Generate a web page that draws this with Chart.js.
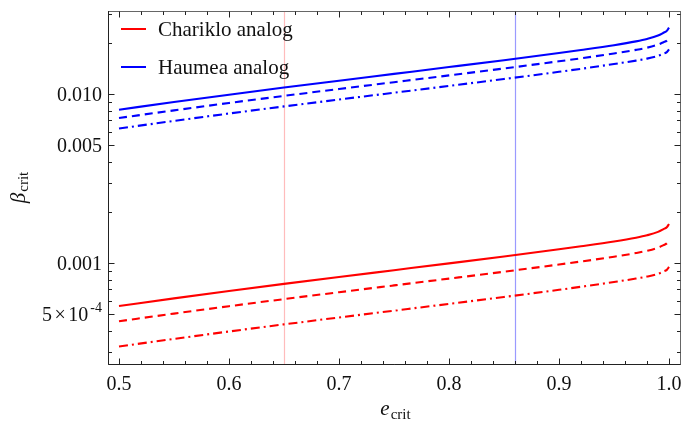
<!DOCTYPE html>
<html><head><meta charset="utf-8">
<script src="https://cdn.jsdelivr.net/npm/chart.js@4.4.1/dist/chart.umd.min.js"></script>
<style>html,body{margin:0;padding:0;background:#fff;}</style>
</head><body>
<canvas id="c" width="698" height="426"></canvas>
<script>
// ---- data ----
const eCrit = [0.5, 0.55, 0.6, 0.65, 0.7, 0.75, 0.8, 0.85, 0.9, 0.92, 0.95, 0.97, 0.98, 0.99, 0.995, 0.998, 1.0];
const haumeaSolid   = [0.008107, 0.008992, 0.009946, 0.010955, 0.012035, 0.013203, 0.014485, 0.015913, 0.017554, 0.018286, 0.019522, 0.020558, 0.021241, 0.022248, 0.023114, 0.023719, 0.024781];
const haumeaDashed  = [0.007240, 0.008030, 0.008882, 0.009783, 0.010747, 0.011790, 0.012935, 0.014210, 0.015676, 0.016329, 0.017433, 0.018311, 0.018868, 0.019678, 0.020338, 0.020778, 0.021626];
const haumeaDashDot = [0.006272, 0.006957, 0.007695, 0.008476, 0.009311, 0.010215, 0.011207, 0.012312, 0.013582, 0.014148, 0.015104, 0.015819, 0.016256, 0.016889, 0.017403, 0.017766, 0.018457];
const charikloSolid   = [0.0005588, 0.0006198, 0.0006856, 0.0007551, 0.0008296, 0.0009101, 0.0009985, 0.0010969, 0.0012100, 0.0012605, 0.0013456, 0.0014171, 0.0014642, 0.0015336, 0.0015933, 0.0016349, 0.0017082];
const charikloDashed  = [0.0004541, 0.0005037, 0.0005572, 0.0006137, 0.0006742, 0.0007396, 0.0008115, 0.0008915, 0.0009834, 0.0010244, 0.0010936, 0.0011494, 0.0011851, 0.0012372, 0.0012810, 0.0013112, 0.0013659];
const charikloDashDot = [0.0003218, 0.0003569, 0.0003948, 0.0004349, 0.0004778, 0.0005241, 0.0005750, 0.0006317, 0.0006968, 0.0007259, 0.0007749, 0.0008117, 0.0008341, 0.0008665, 0.0008942, 0.0009139, 0.0009508];
const refLines = [0.65, 0.86];
const xTickValues = [0.5, 0.6, 0.7, 0.8, 0.9, 1.0];
const xTickLabels = ["0.5", "0.6", "0.7", "0.8", "0.9", "1.0"];
const yTickValues = [0.0005, 0.001, 0.005, 0.01];
const yTickLabels = ["5×10^-4", "0.001", "0.005", "0.010"];
const yMinorValues = [0.0003, 0.0004, 0.0006, 0.0007, 0.0008, 0.0009, 0.002, 0.003, 0.004, 0.006, 0.007, 0.008, 0.009, 0.02, 0.03];
const seriesLabels = ["Chariklo analog", "Haumea analog"];

// ---- styles ----
const RED = '#ff0000', BLUE = '#0000ff';
const refColors = ['#ffbcbc', '#9a9aff'];
const SERIF = '"Liberation Serif", "Times New Roman", serif';

function pts(arr) { return eCrit.map((x, i) => ({ x: x, y: arr[i] })); }
function ds(label, arr, color, dash, legend) {
  return { label: label, data: pts(arr), borderColor: color, backgroundColor: color,
    borderWidth: 2.1, borderDash: dash, pointRadius: 0, fill: false,
    cubicInterpolationMode: 'monotone', inLegend: legend };
}

const datasets = [
  ds(seriesLabels[0], charikloSolid, RED, [], true),
  ds(seriesLabels[0] + ' (dashed)', charikloDashed, RED, [8, 5], false),
  ds(seriesLabels[0] + ' (dot-dashed)', charikloDashDot, RED, [9, 4, 2, 4], false),
  ds(seriesLabels[1], haumeaSolid, BLUE, [], true),
  ds(seriesLabels[1] + ' (dashed)', haumeaDashed, BLUE, [8, 5], false),
  ds(seriesLabels[1] + ' (dot-dashed)', haumeaDashDot, BLUE, [9, 4, 2, 4], false)
];

const refLinePlugin = {
  id: 'refLines',
  beforeDatasetsDraw(chart) {
    const { ctx, chartArea: a, scales: { x } } = chart;
    ctx.save();
    refLines.forEach((v, i) => {
      const px = Math.round(x.getPixelForValue(v)) + 0.5;
      ctx.strokeStyle = refColors[i];
      ctx.lineWidth = 1.2;
      ctx.beginPath(); ctx.moveTo(px, a.top); ctx.lineTo(px, a.bottom); ctx.stroke();
    });
    ctx.restore();
  }
};

const framePlugin = {
  id: 'frame',
  afterDraw(chart) {
    const { ctx, chartArea: a, scales: { x, y } } = chart;
    ctx.save();
    ctx.lineWidth = 1;
    ctx.strokeStyle = '#666';
    ctx.strokeRect(Math.round(a.left) + 0.5, Math.round(a.top) + 0.5, Math.round(a.right - a.left), Math.round(a.bottom - a.top));
    ctx.strokeStyle = '#222';
    ctx.beginPath();
    ctx.moveTo(Math.round(a.left) + 0.5, Math.round(a.top));
    ctx.lineTo(Math.round(a.left) + 0.5, Math.round(a.bottom) + 0.5);
    ctx.lineTo(Math.round(a.right) + 0.5, Math.round(a.bottom) + 0.5);
    ctx.stroke();
    const L = Math.round(a.left) + 0.5, R = Math.round(a.right) + 0.5, T = Math.round(a.top) + 0.5, B = Math.round(a.bottom) + 0.5;
    ctx.strokeStyle = '#222';
    function vtick(v, len) {
      const px = Math.round(x.getPixelForValue(v)) + 0.5;
      ctx.beginPath(); ctx.moveTo(px, B); ctx.lineTo(px, B - len);
      ctx.moveTo(px, T); ctx.lineTo(px, T + len); ctx.stroke();
    }
    function htick(v, len) {
      const py = Math.round(y.getPixelForValue(v)) + 0.5;
      ctx.beginPath(); ctx.moveTo(L, py); ctx.lineTo(L + len, py);
      ctx.moveTo(R, py); ctx.lineTo(R - len, py); ctx.stroke();
    }
    for (let k = 25; k <= 50; k++) {
      const v = k * 0.02;
      const major = xTickValues.some(t => Math.abs(t - v) < 1e-9);
      vtick(v, major ? 6 : 3.5);
    }
    yTickValues.forEach(v => htick(v, 6));
    yMinorValues.forEach(v => htick(v, 3.5));
    // tick labels
    ctx.fillStyle = '#111';
    ctx.font = '20px ' + SERIF;
    ctx.textAlign = 'center';
    ctx.textBaseline = 'alphabetic';
    xTickValues.forEach((v, i) => {
      ctx.fillText(xTickLabels[i], x.getPixelForValue(v), a.bottom + 26);
    });
    ctx.textAlign = 'left';
    yTickValues.forEach((v, i) => {
      const py = y.getPixelForValue(v) + 7;
      const lab = yTickLabels[i];
      const right = a.left - 6;
      if (lab.indexOf('^') >= 0) {
        const [base, sup] = lab.split('^');
        const parts = base.split('×');
        ctx.font = '20px ' + SERIF;
        const w1 = ctx.measureText(parts[0]).width;
        const wx = ctx.measureText('×').width;
        const w2 = ctx.measureText(parts[1]).width;
        const gap = 2.5;
        ctx.font = '14px ' + SERIF;
        const ws = ctx.measureText(sup).width;
        const total = w1 + gap + wx + gap + w2 + 2 + ws;
        let cx = right - total;
        ctx.font = '20px ' + SERIF;
        ctx.fillText(parts[0], cx, py); cx += w1 + gap;
        ctx.fillText('×', cx, py); cx += wx + gap;
        ctx.fillText(parts[1], cx, py); cx += w2 + 2;
        ctx.font = '14px ' + SERIF;
        ctx.fillText(sup, cx, py - 9);
      } else {
        ctx.font = '20px ' + SERIF;
        ctx.fillText(lab, right - ctx.measureText(lab).width, py);
      }
    });
    // axis titles
    ctx.font = 'italic 21px ' + SERIF;
    const xc = (a.left + a.right) / 2;
    const we = ctx.measureText('e').width;
    ctx.font = '15px ' + SERIF;
    const wc = ctx.measureText('crit').width;
    let sx = xc - (we + wc) / 2 + 1;
    ctx.font = 'italic 21px ' + SERIF;
    ctx.fillText('e', sx, 415);
    ctx.font = '15px ' + SERIF;
    ctx.fillText('crit', sx + we + 1, 419);
    ctx.save();
    ctx.translate(25, 188);
    ctx.rotate(-Math.PI / 2);
    ctx.font = 'italic 21px ' + SERIF;
    const wbeta = ctx.measureText('β').width;
    ctx.font = '15px ' + SERIF;
    const wc2 = ctx.measureText('crit').width;
    const s0 = -(wbeta + wc2) / 2;
    ctx.font = 'italic 21px ' + SERIF;
    ctx.fillText('β', s0, 0);
    ctx.font = '15px ' + SERIF;
    ctx.fillText('crit', s0 + wbeta + 1, 3);
    ctx.restore();
    // legend
    const legendItems = chart.data.datasets.filter(d => d.inLegend);
    legendItems.forEach((d, i) => {
      const ly = 29 + i * 38;
      ctx.strokeStyle = d.borderColor;
      ctx.lineWidth = 2;
      ctx.setLineDash([]);
      ctx.beginPath(); ctx.moveTo(121, ly); ctx.lineTo(146, ly); ctx.stroke();
      ctx.fillStyle = '#111';
      ctx.font = '21px ' + SERIF;
      ctx.textBaseline = 'middle';
      ctx.fillText(d.label, 158, ly + 1);
      ctx.textBaseline = 'alphabetic';
    });
    ctx.restore();
  }
};

new Chart(document.getElementById('c'), {
  type: 'line',
  data: { datasets: datasets },
  options: {
    responsive: false,
    animation: false,
    layout: { padding: { left: 108, right: 18, top: 11, bottom: 62 } },
    plugins: { legend: { display: false }, tooltip: { enabled: false } },
    scales: {
      x: { type: 'linear', min: 0.49, max: 1.01, display: false },
      y: { type: 'logarithmic', min: 0.0002535, max: 0.0311, display: false }
    }
  },
  plugins: [refLinePlugin, framePlugin]
});
</script>
</body></html>
